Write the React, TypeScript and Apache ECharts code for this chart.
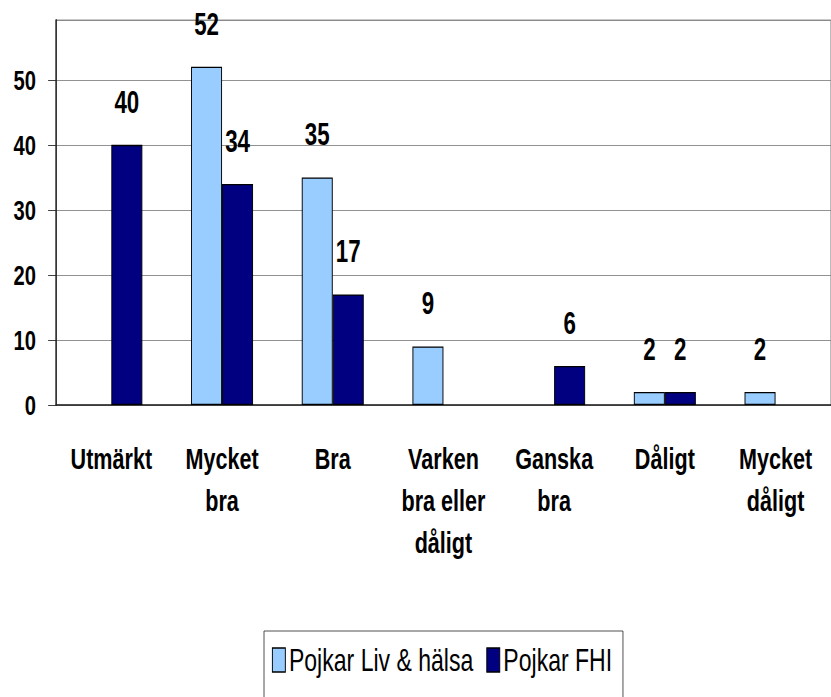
import React, { useEffect, useRef } from "react";
import * as echarts from "echarts";

const categories = ["Utmärkt", "Mycket\nbra", "Bra", "Varken\nbra eller\ndåligt", "Ganska\nbra", "Dåligt", "Mycket\ndåligt"];
const livHalsa = [null, 52, 35, 9, null, 2, 2];
const fhi = [40, 34, 17, null, 6, 2, null];
const seriesNames = ["Pojkar Liv & hälsa", "Pojkar FHI"];
const yTicks = [0, 10, 20, 30, 40, 50];

const FONT = "'Liberation Sans', Arial, sans-serif";
const S = 0.72; // horizontal squeeze of the whole picture (condensed look)
const W = 831;
const H = 697;

export default function App() {
  const ref = useRef<HTMLDivElement>(null);
  useEffect(() => {
    document.body.style.margin = "0";
    const chart = echarts.init(ref.current!, null, { renderer: "svg" });
    const label = {
      show: true,
      position: "top",
      distance: 27,
      color: "#000",
      fontFamily: FONT,
      fontWeight: "bold",
      fontSize: 31,
    };
    chart.setOption({
      animation: false,
      backgroundColor: "#fff",
      grid: {
        left: 56 / S,
        right: 0,
        top: 20,
        bottom: 292,
        show: true,
        borderColor: "#808080",
        borderWidth: 1,
      },
      legend: {
        left: 264 / S,
        top: 631,
        padding: [13, 15, 40, 11],
        itemGap: 18,
        itemWidth: 18,
        itemHeight: 24,
        icon: "rect",
        itemStyle: { borderColor: "#000", borderWidth: 1.3 },
        borderColor: "#333",
        borderWidth: 1,
        borderRadius: 0,
        textStyle: { fontFamily: FONT, fontSize: 32, color: "#000" },
        data: seriesNames,
      },
      xAxis: {
        type: "category",
        data: categories,
        axisLine: { lineStyle: { color: "#222", width: 1.5 } },
        axisTick: { show: false },
        axisLabel: {
          interval: 0,
          margin: 33,
          lineHeight: 42,
          color: "#000",
          fontFamily: FONT,
          fontWeight: "bold",
          fontSize: 30,
        },
      },
      yAxis: {
        type: "value",
        min: 0,
        max: 59.2,
        interval: 10,
        axisLine: { show: true, lineStyle: { color: "#222", width: 2 } },
        axisTick: { show: true, length: 11, lineStyle: { color: "#222" } },
        axisLabel: {
          showMaxLabel: false,
          margin: 28,
          color: "#000",
          fontFamily: FONT,
          fontWeight: "bold",
          fontSize: 28,
          formatter: (v: number) => (yTicks.includes(v) ? String(v) : ""),
        },
        splitLine: { lineStyle: { color: "#808080", width: 1 } },
      },
      series: [
        {
          name: seriesNames[0],
          type: "bar",
          data: livHalsa,
          barWidth: "28%",
          barGap: "0%",
          itemStyle: { color: "#99CCFF", borderColor: "#000", borderWidth: 1.3 },
          label,
        },
        {
          name: seriesNames[1],
          type: "bar",
          data: fhi,
          barWidth: "28%",
          barGap: "0%",
          itemStyle: { color: "#000080", borderColor: "#000", borderWidth: 1.3 },
          label,
        },
      ],
    });
    return () => chart.dispose();
  }, []);
  return (
    <div style={{ width: W, height: H, overflow: "hidden", position: "relative", background: "#fff" }}>
      <div
        ref={ref}
        style={{
          width: W / S,
          height: H,
          transform: `scaleX(${S})`,
          transformOrigin: "0 0",
          position: "absolute",
          left: 0,
          top: 0,
        }}
      />
    </div>
  );
}
